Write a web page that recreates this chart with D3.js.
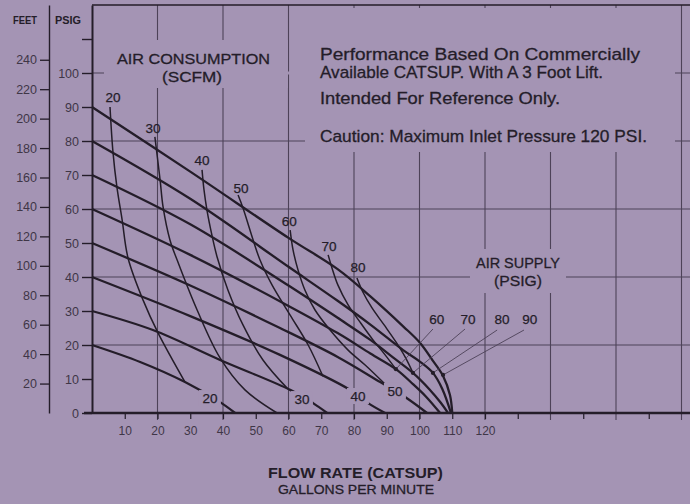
<!DOCTYPE html>
<html>
<head>
<meta charset="utf-8">
<script src="https://cdn.jsdelivr.net/npm/d3@7/dist/d3.min.js"></script>
<style>
html, body { margin: 0; padding: 0; background: #a494b4; }
svg { display: block; }
text { font-family: "Liberation Sans", Arial, sans-serif; }
</style>
</head>
<body>
<svg id="chart" width="690" height="504"></svg>
<script>
// axis ticks
const FLOW_TICKS = [10, 20, 30, 40, 50, 60, 70, 80, 90, 100, 110, 120];
const FLOW_MINOR = [130, 150, 170];
const PSIG_TICKS = [0, 10, 20, 30, 40, 50, 60, 70, 80, 90, 100];
const PSIG_MINOR = [110];
const FEET_TICKS = [20, 40, 60, 80, 100, 120, 140, 160, 180, 200, 220, 240];
const GRID_FLOW = [20, 40, 60, 80, 100, 120, 140, 160, 180];
const GRID_PSIG = [20, 40, 60, 80, 100];
const FEET_PER_PSI = 2.31;

// air supply lines [gpm, psig]
const SUPPLY = [20, 30, 40, 50, 60, 70, 80, 90];
const supply20 = [[0, 20], [14.7, 15], [28.4, 9.1], [39.1, 3.2], [43.7, 0]];
const supply30 = [[0, 30], [18.6, 24.4], [39.1, 15.6], [60.5, 6.8], [67.5, 2.9], [71.8, 0]];
const supply40 = [[0, 40], [30, 28.5], [57.4, 17.1], [78.8, 6.8], [84.3, 2.9], [89.5, 0]];
const supply50 = [[0, 50], [30, 37.5], [57.4, 25], [75, 16.5], [88, 9.1], [95.6, 4.7], [102.3, 0]];
const supply60 = [[0, 60], [30, 46.5], [60, 31.5], [75, 23.5], [85, 17.5], [92.8, 12.9], [98, 8.5], [102, 4.8], [106.3, 0]];
const supply70 = [[0, 70], [30, 55.5], [60, 37.5], [75, 28], [85, 21.5], [92, 16.3], [98, 11.8], [103, 7], [106.5, 3], [108.7, 0]];
const supply80 = [[0, 80], [30, 63], [60, 43], [75, 33], [85, 26], [95, 18.5], [100, 15.2], [104.1, 11.8], [107, 7], [109.6, 0]];
const supply90 = [[0, 90], [30, 71], [60, 51.5], [75, 42.3], [85, 34.3], [95, 25.5], [100, 20.8], [104, 15.5], [107.2, 10.9], [109.3, 5.3], [110, 0]];

// air consumption curves [gpm, psig]
const SCFM = [20, 30, 40, 50, 60, 70, 80];
const scfm20 = [[5.5, 90], [6.4, 76.8], [7.6, 66.5], [9.2, 56.8], [11, 45.6], [15.6, 33.2], [20.2, 23.5], [28.4, 9.1]];
const scfm30 = [[19.2, 81.2], [20.8, 68.5], [21.7, 60.6], [23.8, 50.9], [26, 45], [32.1, 30.3], [39.1, 16.2], [46.7, 6.8], [56.5, 0]];
const scfm40 = [[33.6, 71.5], [34.2, 65.6], [35.1, 59.7], [36.6, 52.4], [38.2, 45.9], [41.5, 36.2], [46.1, 25.9], [52.2, 15.6], [59.8, 7.1]];
const scfm50 = [[44.6, 64.1], [46.1, 60.3], [49.2, 50.9], [51.3, 45], [55, 37.6], [60.5, 28.8], [66, 20], [70.5, 10.8]];
const scfm60 = [[60.5, 53.8], [61.4, 47.9], [62.9, 42.1], [65, 36.2], [68.1, 30.3], [72.7, 24.4], [78.2, 18.5], [83.4, 14.1], [90.1, 7.9]];
const scfm70 = [[72.1, 46.5], [73.3, 42.6], [75.1, 37.6], [78.2, 31.8], [81.8, 26.8], [85.8, 21.5], [89.5, 17.1], [92.8, 12.9]];
const scfm80 = [[80.9, 39.7], [82.7, 35.6], [85.5, 30.9], [89.2, 25.9], [92.8, 20.9], [95.6, 16.5], [98, 11.8]];

// label anchors [gpm, psig]
const scfmLabelAt = [[6.4, 92.9], [18.6, 83.8], [33.6, 74.4], [45.5, 66.2], [60.2, 56.5], [72.4, 49.1], [81.2, 42.9]];
const supplyLabelLow = [[36, 4.4], [64.1, 4.1], [81.2, 5.0], [92.5, 6.5]];      // 20..50
const supplyLabelHigh = [[105.3, 27.6], [114.8, 27.6], [125.2, 27.6], [133.7, 27.6]]; // 60..90
const leaderFrom = [[104.1, 24.7], [113.9, 24.7], [123.7, 24.4], [131.9, 24.4]];
const leaderTo = [[92.8, 12.9], [98, 11.8], [104.1, 11.8], [107.2, 11.2]];

const BG = '#a494b4';
const INK = '#241d29';
const GRID = '#4d4258';
const TICK_TXT = '#3f3647';

const supplyLines = [supply20, supply30, supply40, supply50, supply60, supply70, supply80, supply90];
const scfmCurves = [scfm20, scfm30, scfm40, scfm50, scfm60, scfm70, scfm80];

const svg = d3.select('#chart');
svg.append('rect').attr('width', 690).attr('height', 504).attr('fill', BG);

const x = d3.scaleLinear().domain([0, 180]).range([92, 681.5]);
const y = d3.scaleLinear().domain([0, 120]).range([413, 5]);
const yFeet = d3.scaleLinear().domain([0, 120 * FEET_PER_PSI]).range([413, 5]);

// grid
const grid = svg.append('g').attr('stroke', GRID).attr('stroke-width', 1.1);
grid.selectAll('line.v').data(GRID_FLOW).enter().append('line').attr('class', 'v')
  .attr('x1', d => x(d)).attr('x2', d => x(d)).attr('y1', y(120)).attr('y2', 420);
grid.selectAll('line.h').data(GRID_PSIG).enter().append('line').attr('class', 'h')
  .attr('x1', x(0)).attr('x2', 690).attr('y1', d => y(d)).attr('y2', d => y(d));
grid.append('line').attr('x1', x(0)).attr('x2', 690).attr('y1', y(120)).attr('y2', y(120))
  .attr('stroke', INK).attr('stroke-width', 1.4);

// text boxes cut the grid
const masks = [[104, 40, 184, 48], [305, 8, 370, 144], [470, 249, 96, 44]];
svg.append('g').selectAll('rect').data(masks).enter().append('rect')
  .attr('x', d => d[0]).attr('y', d => d[1]).attr('width', d => d[2]).attr('height', d => d[3])
  .attr('fill', BG);
svg.append('line').attr('x1', 286).attr('x2', 305).attr('y1', y(100)).attr('y2', y(100))
  .attr('stroke', BG).attr('stroke-width', 3);

// PSIG axis
const psigAxis = svg.append('g').attr('transform', `translate(${x(0)},0)`)
  .call(d3.axisLeft(y).tickValues(PSIG_TICKS.concat(PSIG_MINOR)).tickSize(10).tickSizeOuter(0).tickPadding(3)
    .tickFormat(d => d <= 100 ? d : ''));
psigAxis.select('.domain').attr('stroke', INK).attr('stroke-width', 2);
psigAxis.selectAll('.tick line').attr('stroke', INK).attr('stroke-width', 1.4);
psigAxis.selectAll('text').attr('fill', TICK_TXT).style('font-size', '12.5px');

// FEET axis
const feetAxis = svg.append('g').attr('transform', 'translate(49,0)')
  .call(d3.axisLeft(yFeet).tickValues(FEET_TICKS).tickSize(9).tickSizeOuter(0).tickPadding(3));
feetAxis.select('.domain').attr('stroke', INK).attr('stroke-width', 1.4);
feetAxis.selectAll('.tick line').attr('stroke', INK).attr('stroke-width', 1.3);
feetAxis.selectAll('text').attr('fill', TICK_TXT).style('font-size', '12.5px');

// flow axis
const flowAxis = svg.append('g').attr('transform', `translate(0,${y(0)})`)
  .call(d3.axisBottom(x).tickValues(FLOW_TICKS.concat(FLOW_MINOR)).tickSize(6).tickSizeOuter(0).tickPadding(7)
    .tickFormat(d => d <= 120 ? d : ''));
flowAxis.select('.domain').remove();
flowAxis.selectAll('.tick line').attr('stroke', INK).attr('stroke-width', 1.2);
flowAxis.selectAll('text').attr('fill', TICK_TXT).style('font-size', '12px');
svg.append('line').attr('x1', 84).attr('x2', 690).attr('y1', y(0)).attr('y2', y(0))
  .attr('stroke', INK).attr('stroke-width', 2.6);

// curves
const line = d3.line().x(d => x(d[0])).y(d => y(d[1])).curve(d3.curveCatmullRom.alpha(0.5));
svg.append('g').selectAll('path').data(scfmCurves).enter().append('path')
  .attr('d', line).attr('fill', 'none').attr('stroke', INK).attr('stroke-width', 1.5);
svg.append('g').selectAll('path').data(supplyLines).enter().append('path')
  .attr('d', line).attr('fill', 'none').attr('stroke', INK).attr('stroke-width', 2.3);

// leaders for 60..90
const lead = svg.append('g');
lead.selectAll('line').data(leaderFrom).enter().append('line')
  .attr('x1', d => x(d[0])).attr('y1', d => y(d[1]))
  .attr('x2', (d, i) => x(leaderTo[i][0])).attr('y2', (d, i) => y(leaderTo[i][1]))
  .attr('stroke', GRID).attr('stroke-width', 0.9);
lead.selectAll('circle').data(leaderTo).enter().append('circle')
  .attr('cx', d => x(d[0])).attr('cy', d => y(d[1])).attr('r', 2.1).attr('fill', INK);

// curve labels
const lbl = svg.append('g').style('font-size', '13.5px').attr('fill', INK).attr('text-anchor', 'middle')
  .attr('stroke', INK).attr('stroke-width', 0.25);
lbl.selectAll('text.scfm').data(scfmLabelAt).enter().append('text').attr('class', 'scfm')
  .attr('x', d => x(d[0])).attr('y', d => y(d[1]) + 5).text((d, i) => SCFM[i]);
const low = lbl.selectAll('g.low').data(supplyLabelLow).enter().append('g').attr('class', 'low');
low.append('rect').attr('x', d => x(d[0]) - 11).attr('y', d => y(d[1]) - 8).attr('width', 22).attr('height', 16)
  .attr('fill', BG).attr('stroke', 'none');
low.append('text').attr('x', d => x(d[0])).attr('y', d => y(d[1]) + 5).text((d, i) => SUPPLY[i]);
lbl.selectAll('text.high').data(supplyLabelHigh).enter().append('text').attr('class', 'high')
  .attr('x', d => x(d[0])).attr('y', d => y(d[1]) + 5).text((d, i) => SUPPLY[i + 4]);

// headings
function put(str, px, py, size, len, weight) {
  svg.append('text').attr('x', px).attr('y', py).attr('fill', INK)
    .attr('stroke', INK).attr('stroke-width', weight ? 0 : 0.3)
    .style('font-size', size + 'px').style('font-weight', weight || 'normal')
    .attr('textLength', len).attr('lengthAdjust', 'spacingAndGlyphs').text(str);
}
put('FEET', 13, 24, 11, 24, 'bold');
put('PSIG', 55, 24, 11, 26, 'bold');
put('AIR CONSUMPTION', 117, 64, 15.5, 153);
put('(SCFM)', 162, 82, 15.5, 60);
put('Performance Based On Commercially', 320, 60, 17, 320);
put('Available CATSUP. With A 3 Foot Lift.', 320, 78, 17, 283);
put('Intended For Reference Only.', 320, 104, 17, 240);
put('Caution: Maximum Inlet Pressure 120 PSI.', 320, 142, 17, 327);
put('AIR SUPPLY', 476, 268, 15, 84);
put('(PSIG)', 494, 286, 15, 48);
put('FLOW RATE (CATSUP)', 268, 478, 15, 175, 'bold');
put('GALLONS PER MINUTE', 278, 494, 13, 156);
</script>
</body>
</html>
